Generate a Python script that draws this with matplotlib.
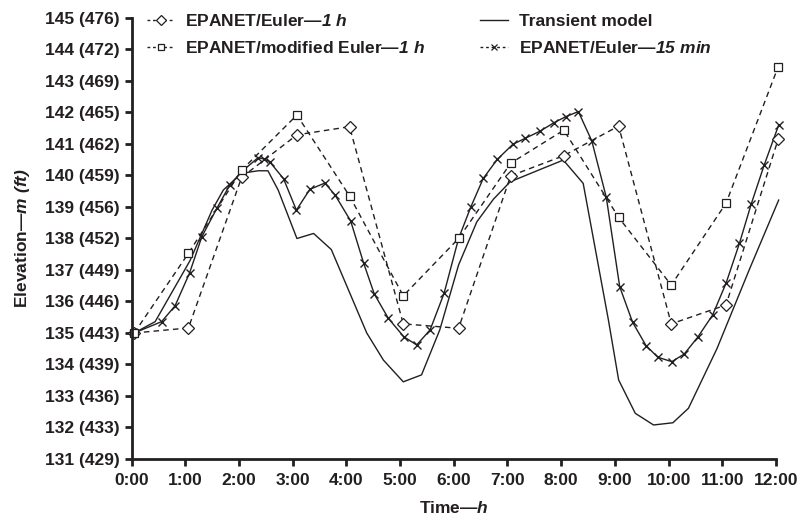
import matplotlib
matplotlib.use("Agg")
import matplotlib.pyplot as plt
from matplotlib.lines import Line2D

# hourly results (time in h, elevation in m)
hour_t = [0.05, 1.06, 2.05, 3.08, 4.06, 5.06, 6.09, 7.06, 8.05, 9.07, 10.05, 11.07, 12.04]
euler_1h = [135.0, 135.16, 139.94, 141.29, 141.55, 135.29, 135.15, 139.99, 140.63, 141.57, 135.29, 135.89, 141.15]
mod_euler_1h = [135.0, 137.53, 140.17, 141.92, 139.35, 136.18, 138.0, 140.39, 141.44, 138.67, 136.52, 139.12, 143.45]

# transient model
trans_t = [0.05, 0.44, 1.09, 1.5, 1.71, 2.05, 2.36, 2.54, 2.73, 3.08, 3.39, 3.72, 4.38, 4.69,
           5.06, 5.40, 5.74, 6.09, 6.43, 6.74, 7.05, 7.55, 8.04, 8.41, 8.88, 9.07, 9.38, 9.72,
           10.08, 10.37, 10.9, 11.5, 12.05]
trans_h = [135.0, 135.36, 137.3, 138.9, 139.54, 140.07, 140.15, 140.15, 139.54, 138.0, 138.16, 137.65,
           135.0, 134.14, 133.45, 133.67, 135.1, 137.16, 138.53, 139.25, 139.8, 140.15, 140.49, 139.75,
           135.41, 133.51, 132.45, 132.08, 132.15, 132.61, 134.5, 137.0, 139.22]

# 15 min results
t15 = [0.05, 0.56, 0.81, 1.08, 1.31, 1.59, 1.83, 2.05, 2.36, 2.47,
       2.57, 2.83, 3.07, 3.32, 3.60, 3.79, 4.08, 4.32, 4.52, 4.78,
       5.07, 5.31, 5.56, 5.82, 6.09, 6.32, 6.55, 6.81, 7.10, 7.33,
       7.61, 7.87, 8.09, 8.32, 8.57, 8.84, 9.09, 9.33, 9.58, 9.80,
       10.06, 10.29, 10.54, 10.82, 11.07, 11.32, 11.54, 11.78, 12.05]
euler_15 = [135.0, 135.36, 135.86, 136.9, 138.06, 138.96, 139.7, 140.12, 140.57, 140.52,
            140.44, 139.9, 138.9, 139.56, 139.76, 139.38, 138.56, 137.23, 136.24, 135.47,
            134.88, 134.62, 135.1, 136.26, 138.0, 139.01, 139.91, 140.51, 140.99, 141.18,
            141.41, 141.68, 141.87, 142.03, 141.1, 139.31, 136.47, 135.34, 134.6, 134.23,
            134.09, 134.33, 134.86, 135.57, 136.58, 137.85, 139.10, 140.33, 141.60]

y_ticks = [131, 132, 133, 134, 135, 136, 137, 138, 139, 140, 141, 142, 143, 144, 145]
y_ft = [429, 433, 436, 439, 443, 446, 449, 452, 456, 459, 462, 465, 469, 472, 476]
x_labels = ["0:00", "1:00", "2:00", "3:00", "4:00", "5:00", "6:00", "7:00",
            "8:00", "9:00", "10:00", "11:00", "12:00"]

plt.rcParams['font.family'] = ['Liberation Sans', 'DejaVu Sans']
plt.rcParams['font.weight'] = 'bold'
plt.rcParams['axes.labelweight'] = 'bold'
# math parts are only the italic bits
plt.rcParams['mathtext.fontset'] = 'custom'
plt.rcParams['mathtext.rm'] = 'Liberation Sans:italic:bold'
plt.rcParams['mathtext.it'] = 'Liberation Sans:italic:bold'
plt.rcParams['mathtext.bf'] = 'Liberation Sans:italic:bold'

ink = '#231f20'
fig = plt.figure(figsize=(7.99, 5.17), dpi=100)
ax = fig.add_axes([0.1646, 0.1122, 0.8066, 0.853])

dash = (0, (4, 3))
ax.plot(trans_t, trans_h, color=ink, lw=1.0, clip_on=False)
ax.plot(t15, euler_15, color=ink, lw=1.0, marker='x', ms=6, mew=1.0, clip_on=False)
ax.plot(hour_t, euler_1h, color=ink, lw=1.0, ls=dash, marker='D', ms=6.2, mfc='white',
        mew=0.9, clip_on=False)
ax.plot(hour_t, mod_euler_1h, color=ink, lw=1.0, ls=dash, marker='s', ms=5.5, mfc='white',
        mew=0.9, clip_on=False)

ax.set_xlim(0, 12)
ax.set_ylim(131, 145)
ax.set_xticks(range(13))
ax.set_xticklabels(x_labels)
ax.set_yticks(y_ticks)
ax.set_yticklabels([f"{m} ({f})" for m, f in zip(y_ticks, y_ft)])
for s in ['top', 'right']:
    ax.spines[s].set_visible(False)
for s in ['left', 'bottom']:
    ax.spines[s].set_linewidth(2.0)
    ax.spines[s].set_color(ink)
ax.tick_params(axis='x', pad=5)
ax.tick_params(axis='both', direction='out', length=5, width=2.0, colors=ink, labelsize=12.5)
ax.set_xlabel(r"Time—$h$", fontsize=12.5, fontweight='bold', color=ink, labelpad=9)
ax.set_ylabel(r"Elevation—$m\ (ft)$", fontsize=12.5, fontweight='bold', color=ink, labelpad=9)

handles = [
    Line2D([], [], color=ink, lw=1.0, ls=(0, (2, 2)), marker='D', ms=5, mfc='white', mew=0.9),
    Line2D([], [], color=ink, lw=1.0, ls=(0, (2, 2)), marker='s', ms=4.5, mfc='white', mew=0.9),
    Line2D([], [], color=ink, lw=1.0),
    Line2D([], [], color=ink, lw=1.0, ls=(0, (2, 2)), marker='x', ms=5, mew=0.9),
]
labels = [r"EPANET/Euler—$1\ h$", r"EPANET/modified Euler—$1\ h$",
          "Transient model", r"EPANET/Euler—$15\ min$"]
leg = fig.legend(handles, labels, ncol=2, loc='upper left', bbox_to_anchor=(0.164, 1.005),
                 frameon=False, fontsize=12.5, handlelength=1.6, handletextpad=0.6,
                 labelspacing=0.65, columnspacing=3.2)
for t in leg.get_texts():
    t.set_color(ink)

fig.savefig("out.png", dpi=100)
